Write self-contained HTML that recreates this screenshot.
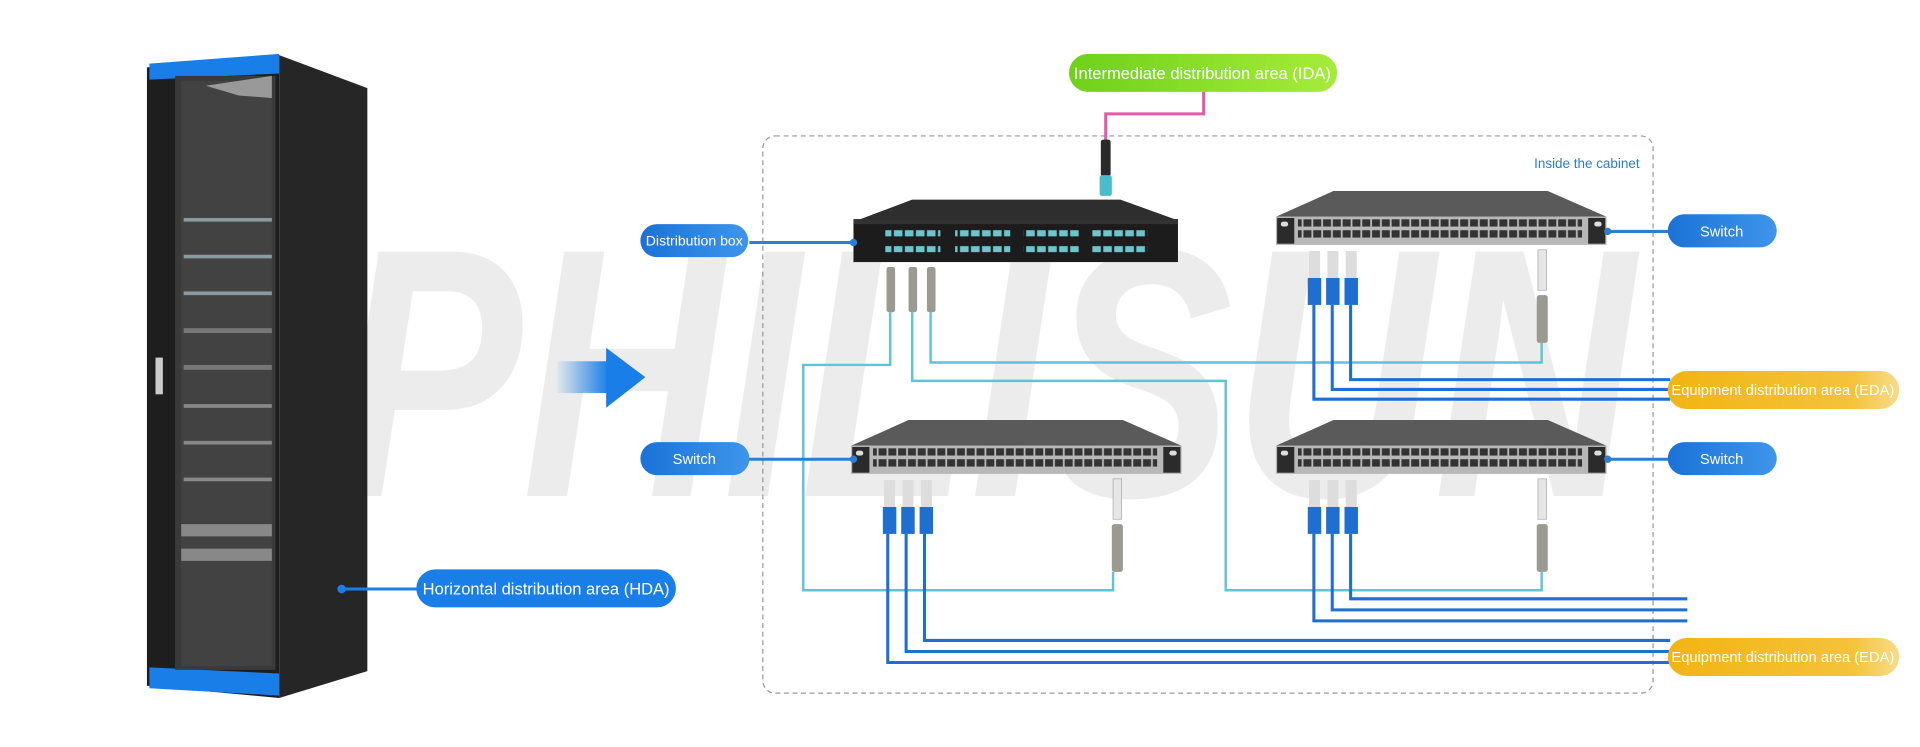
<!DOCTYPE html>
<html><head><meta charset="utf-8"><style>
html,body{margin:0;padding:0;background:#fff;width:1920px;height:747px;overflow:hidden}
svg{display:block}
text{font-family:"Liberation Sans",sans-serif}
</style></head><body>
<svg width="1920" height="747" viewBox="0 0 1568 610" preserveAspectRatio="none" xmlns="http://www.w3.org/2000/svg">
<defs>
<linearGradient id="arr" x1="0" x2="1"><stop offset="0" stop-color="#1a7ee8" stop-opacity="0.05"/><stop offset="1" stop-color="#1a7ee8"/></linearGradient>
<linearGradient id="grn" x1="0" x2="1"><stop offset="0" stop-color="#6fd11a"/><stop offset="1" stop-color="#a6ec3a"/></linearGradient>
<linearGradient id="yel" x1="0" x2="1"><stop offset="0" stop-color="#f2b412"/><stop offset="0.8" stop-color="#f4c33a"/><stop offset="1" stop-color="#f8dc8a"/></linearGradient>
<linearGradient id="blu" x1="0" x2="1"><stop offset="0" stop-color="#1a72d8"/><stop offset="1" stop-color="#3f95ea"/></linearGradient>
<pattern id="sp" width="8" height="22" patternUnits="userSpaceOnUse"><rect x="0.5" y="3" width="6.5" height="6" fill="#333"/><rect x="0.5" y="12" width="6.5" height="6" fill="#333"/></pattern>
<pattern id="dp" width="9" height="22" patternUnits="userSpaceOnUse"><rect x="1" y="3" width="7" height="5" fill="#6cc6cf"/><rect x="1" y="12" width="7" height="5" fill="#6cc6cf"/></pattern>
</defs>

<!-- watermark -->
<text x="275" y="405" font-size="290" font-weight="bold" font-style="italic" fill="#ececec" textLength="1060" lengthAdjust="spacingAndGlyphs">PHILISUN</text>

<!-- rack -->
<polygon points="228,45 300,72 300,548 228,570" fill="#262626"/>
<polygon points="120,55 228,45 228,570 120,560" fill="#1e1e1e"/>
<polygon points="122,52 228,44 228,60 122,65" fill="#1a7ee8"/>
<polygon points="122,545 228,550 228,568 122,562" fill="#1a7ee8"/>
<rect x="143" y="62" width="82" height="485" fill="#3a3a3a"/>
<rect x="148" y="66" width="74" height="478" fill="#424242"/>
<g fill="#8a9aa0">
<rect x="150" y="178" width="72" height="3"/><rect x="150" y="208" width="72" height="3"/><rect x="150" y="238" width="72" height="3"/>
<rect x="150" y="268" width="72" height="4" fill="#777"/><rect x="150" y="298" width="72" height="4" fill="#777"/>
<rect x="150" y="330" width="72" height="3" fill="#888"/><rect x="150" y="360" width="72" height="3" fill="#888"/><rect x="150" y="390" width="72" height="3" fill="#888"/>
<rect x="148" y="428" width="74" height="10" fill="#888"/><rect x="148" y="448" width="74" height="10" fill="#888"/>
</g>
<polygon points="168,70 222,62 222,80 195,78" fill="#999"/>
<rect x="127" y="292" width="6" height="30" fill="#ccc"/>

<!-- arrow -->
<rect x="455" y="295" width="42" height="26" fill="url(#arr)"/>
<polygon points="495,284 527,308 495,333" fill="#1a7ee8"/>

<!-- HDA -->
<line x1="278" y1="481" x2="345" y2="481" stroke="#1a7ee8" stroke-width="2.5"/>
<circle cx="279" cy="481" r="3.5" fill="#1a7ee8"/>
<rect x="340" y="465" width="212" height="31" rx="15.5" fill="#1a7ee8"/>
<text x="446" y="485.5" font-size="13.5" fill="#fff" text-anchor="middle">Horizontal distribution area (HDA)</text>

<!-- dashed box -->
<rect x="623" y="111" width="727" height="455" rx="10" fill="none" stroke="#999" stroke-width="1" stroke-dasharray="4,3"/>
<text x="1339" y="137" font-size="11" fill="#2a7fd0" text-anchor="end">Inside the cabinet</text>

<!-- IDA -->
<rect x="873" y="44" width="219" height="31" rx="15.5" fill="url(#grn)"/>
<text x="982" y="64.5" font-size="13.5" fill="#fff" text-anchor="middle">Intermediate distribution area (IDA)</text>
<polyline points="983,75 983,93 903,93 903,118" fill="none" stroke="#e05aa8" stroke-width="2.5"/>
<rect x="899" y="114" width="8" height="30" rx="2" fill="#2a2a2a"/>
<rect x="898" y="143" width="10" height="17" rx="2" fill="#4bbccc"/>

<!-- cyan fibers -->
<g fill="none" stroke="#5cc6d6" stroke-width="2">
<polyline points="760,255 760,296 1259,296 1259,280"/>
<polyline points="745,255 745,311 1001,311 1001,482 1259,482 1259,467"/>
<polyline points="727,255 727,298 656,298 656,482 909,482 909,467"/>
</g>
<!-- blue copper -->
<g fill="none" stroke="#1f6fd0" stroke-width="2.5">
<polyline points="1073,249 1073,326 1364,326"/>
<polyline points="1088,249 1088,318 1364,318"/>
<polyline points="1103,249 1103,310 1364,310"/>
<polyline points="1073,436 1073,507 1378,507"/>
<polyline points="1088,436 1088,498 1378,498"/>
<polyline points="1103,436 1103,489 1378,489"/>
<polyline points="725,436 725,541 1364,541"/>
<polyline points="740,436 740,532 1364,532"/>
<polyline points="755,436 755,523 1364,523"/>
</g>

<!-- distribution box -->
<polygon points="700,180 745,163 915,163 962,180" fill="#2e2e2e"/>
<rect x="697" y="179" width="265" height="35" fill="#1c1c1c"/>
<rect x="697" y="179" width="265" height="4" fill="#333"/>
<rect x="723" y="186" width="45" height="20" fill="url(#dp)"/>
<rect x="780" y="186" width="45" height="20" fill="url(#dp)"/>
<rect x="836" y="186" width="45" height="20" fill="url(#dp)"/>
<rect x="892" y="186" width="45" height="20" fill="url(#dp)"/>
<line x1="612" y1="198" x2="697" y2="198" stroke="#2a7fd0" stroke-width="2.5"/>
<circle cx="697" cy="198" r="3" fill="#2a7fd0"/>
<rect x="523" y="183" width="88" height="27" rx="13.5" fill="url(#blu)"/>
<text x="567" y="200.5" font-size="11.5" fill="#fff" text-anchor="middle">Distribution box</text>
<!-- LC connectors under box -->
<g fill="#9a9a90">
<rect x="724" y="218" width="7" height="37" rx="2"/><rect x="742" y="218" width="7" height="37" rx="2"/><rect x="757" y="218" width="7" height="37" rx="2"/>
</g>

<!-- switch template top right -->
<g id="sw">
<polygon points="1042,177 1089,156 1264,156 1312,177" fill="#5a5a5a"/>
<rect x="1042" y="177" width="270" height="23" fill="#b8b8b8"/>
<rect x="1060" y="179" width="232" height="19" fill="url(#sp)"/>
<rect x="1043" y="178" width="14" height="21" fill="#2b2b2b"/>
<rect x="1297" y="178" width="14" height="21" fill="#2b2b2b"/>
<rect x="1046" y="181" width="6" height="4" rx="2" fill="#ddd"/>
<rect x="1302" y="181" width="6" height="4" rx="2" fill="#ddd"/>
<g>
<rect x="1069" y="205" width="9" height="22" fill="#ddd"/><rect x="1084" y="205" width="9" height="22" fill="#ddd"/><rect x="1099" y="205" width="9" height="22" fill="#ddd"/>
<rect x="1068" y="227" width="11" height="22" fill="#1f6fd0"/><rect x="1083" y="227" width="11" height="22" fill="#1f6fd0"/><rect x="1098" y="227" width="11" height="22" fill="#1f6fd0"/>
</g>
<rect x="1256" y="204" width="7" height="33" fill="#e6e6e6" stroke="#aaa" stroke-width="0.6"/>
<rect x="1255" y="241" width="9" height="39" rx="2" fill="#9a9a90"/>
</g>
<use href="#sw" transform="translate(0,187)"/>
<use href="#sw" transform="translate(-347,187)"/>

<!-- switch labels -->
<g>
<line x1="1312" y1="189" x2="1365" y2="189" stroke="#2a7fd0" stroke-width="2.5"/><circle cx="1313" cy="189" r="3" fill="#2a7fd0"/>
<rect x="1362" y="175" width="89" height="27" rx="13.5" fill="url(#blu)"/>
<text x="1406" y="193" font-size="12" fill="#fff" text-anchor="middle">Switch</text>
<line x1="1312" y1="375" x2="1365" y2="375" stroke="#2a7fd0" stroke-width="2.5"/><circle cx="1313" cy="375" r="3" fill="#2a7fd0"/>
<rect x="1362" y="361" width="89" height="27" rx="13.5" fill="url(#blu)"/>
<text x="1406" y="379" font-size="12" fill="#fff" text-anchor="middle">Switch</text>
<line x1="610" y1="375" x2="697" y2="375" stroke="#2a7fd0" stroke-width="2.5"/><circle cx="697" cy="375" r="3" fill="#2a7fd0"/>
<rect x="523" y="361" width="89" height="27" rx="13.5" fill="url(#blu)"/>
<text x="567" y="379" font-size="12" fill="#fff" text-anchor="middle">Switch</text>
</g>

<!-- EDA -->
<rect x="1362" y="303" width="189" height="31" rx="15.5" fill="url(#yel)"/>
<text x="1456" y="322.5" font-size="12" fill="#fff" text-anchor="middle">Equipment distribution area (EDA)</text>
<rect x="1362" y="521" width="189" height="31" rx="15.5" fill="url(#yel)"/>
<text x="1456" y="540.5" font-size="12" fill="#fff" text-anchor="middle">Equipment distribution area (EDA)</text>
</svg>
</body></html>
